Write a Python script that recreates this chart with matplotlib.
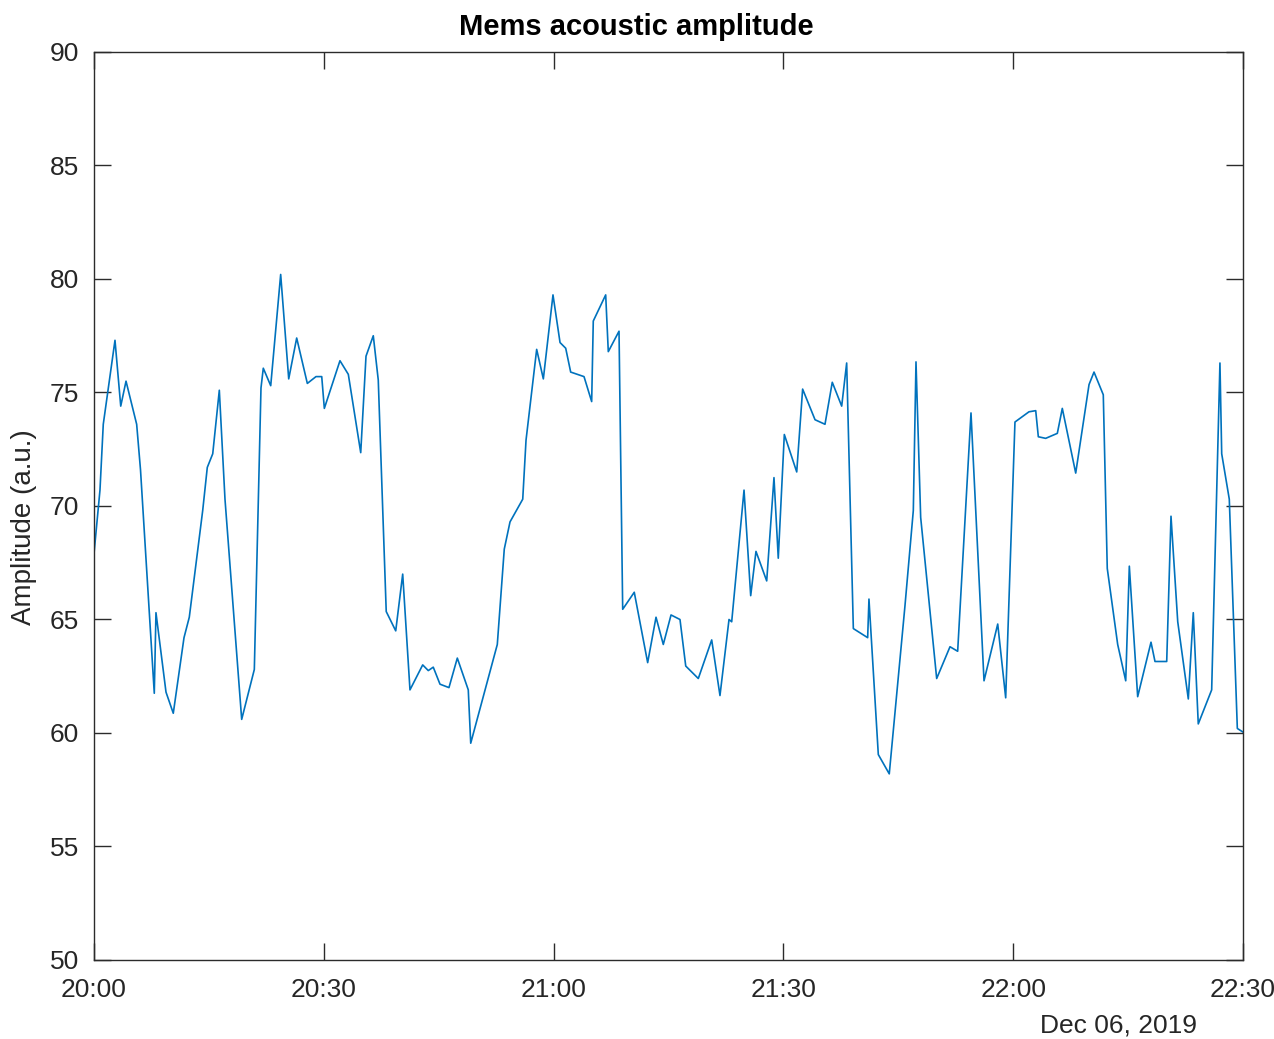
import numpy as np
import pandas as pd
import matplotlib
matplotlib.use("Agg")
import matplotlib.pyplot as plt
import matplotlib.dates as mdates

# minutes after 20:00 on Dec 06, 2019
minutes = [0.0, 0.78, 1.21, 2.74, 3.49, 4.18, 5.57, 6.07, 7.87, 8.09, 9.40, 10.35,
           11.75, 12.44, 14.19, 14.79, 15.50, 16.36, 17.10, 19.28, 20.93, 21.80,
           22.10, 23.07, 24.37, 25.42, 26.46, 27.85, 28.98, 29.73, 30.07, 32.11,
           33.20, 34.82, 35.51, 36.46, 37.11, 38.15, 39.39, 40.30, 41.25, 42.91,
           43.64, 44.29, 45.17, 46.34, 47.43, 48.86, 49.18, 52.65, 53.56, 54.31,
           55.97, 56.40, 57.79, 58.66, 59.92, 60.84, 61.58, 62.23, 63.97, 64.97,
           65.18, 66.80, 67.14, 68.54, 69.02, 70.53, 72.28, 73.37, 74.32, 75.33,
           76.50, 77.25, 78.89, 80.64, 81.72, 82.90, 83.25, 84.86, 85.73, 86.42,
           87.82, 88.77, 89.33, 90.12, 91.74, 92.51, 94.13, 95.43, 96.38, 97.61,
           98.26, 99.13, 101.0, 101.17, 102.39, 103.82, 105.87, 106.96, 107.31,
           107.92, 110.01, 111.75, 112.75, 114.49, 116.19, 117.98, 119.02, 120.23,
           122.06, 122.94, 123.28, 124.24, 125.76, 126.41, 128.16, 129.90, 130.55,
           131.76, 132.28, 133.64, 134.69, 135.16, 136.25, 137.99, 138.51, 140.04,
           140.60, 141.48, 142.86, 143.51, 144.16, 145.91, 146.99, 147.22, 148.21,
           149.26, 149.96]

amplitude = [67.9, 70.7, 73.6, 77.3, 74.4, 75.5, 73.6, 71.6, 61.75, 65.3, 61.8, 60.87,
             64.2, 65.1, 69.8, 71.7, 72.3, 75.1, 70.3, 60.6, 62.8, 75.2,
             76.07, 75.3, 80.2, 75.6, 77.4, 75.4, 75.7, 75.7, 74.3, 76.4,
             75.8, 72.35, 76.6, 77.5, 75.55, 65.35, 64.5, 67.0, 61.9, 63.0,
             62.75, 62.9, 62.15, 62.0, 63.3, 61.9, 59.55, 63.9, 68.1, 69.3,
             70.3, 72.9, 76.9, 75.6, 79.3, 77.2, 76.95, 75.9, 75.7, 74.6,
             78.15, 79.3, 76.8, 77.7, 65.45, 66.2, 63.1, 65.1, 63.9, 65.2,
             65.0, 62.95, 62.4, 64.1, 61.65, 65.0, 64.9, 70.7, 66.05, 68.0,
             66.7, 71.25, 67.7, 73.15, 71.5, 75.15, 73.8, 73.6, 75.45, 74.4,
             76.3, 64.6, 64.2, 65.9, 59.05, 58.2, 65.6, 69.8, 76.35,
             69.5, 62.4, 63.8, 63.6, 74.1, 62.3, 64.8, 61.55, 73.7,
             74.15, 74.2, 73.05, 72.98, 73.2, 74.3, 71.45, 75.35, 75.9,
             74.9, 67.25, 63.9, 62.3, 67.35, 61.6, 64.0, 63.15, 63.15,
             69.55, 64.9, 61.5, 65.3, 60.4, 61.9, 76.3, 72.3, 70.3,
             60.2, 60.05]

start = pd.Timestamp("2019-12-06 20:00")
times = start + pd.to_timedelta(minutes, unit="min")

plt.rcParams['font.family'] = ['Liberation Sans', 'DejaVu Sans']

fig = plt.figure(figsize=(12.74, 10.39), dpi=100)
ax = fig.add_axes([94 / 1274, 1 - 960 / 1039, (1243 - 94) / 1274, (960 - 52) / 1039])

ax.plot(times, amplitude, color='#0072BD', linewidth=1.2)

ax.set_xlim(start, start + pd.Timedelta(minutes=150))
ax.set_ylim(50, 90)
ax.set_yticks(np.arange(50, 91, 5))
ax.xaxis.set_major_locator(mdates.MinuteLocator(byminute=[0, 30]))
ax.xaxis.set_major_formatter(mdates.DateFormatter('%H:%M'))

for s in ax.spines.values():
    s.set_color('#2b2b2b')
    s.set_linewidth(1.0)
ax.tick_params(direction='in', length=12, width=1.0, color='#2b2b2b',
               labelsize=19, labelcolor='#262626', top=True, right=True)
ax.tick_params(axis='x', pad=13)
ax.tick_params(axis='y', pad=11)

# title and y label are centred on the figure, not the axes
fig.text(636 / 1274, 1 - 27 / 1039, 'Mems acoustic amplitude', fontsize=21,
         fontweight='bold', ha='center', va='center')
fig.text(24 / 1274, 1 - 527 / 1039, 'Amplitude (a.u.)', fontsize=20,
         color='#262626', rotation=90, ha='center', va='center')
fig.text(1118 / 1274, 1 - 1025 / 1039, 'Dec 06, 2019', fontsize=19,
         color='#262626', ha='center', va='center')

plt.savefig('out.png')
